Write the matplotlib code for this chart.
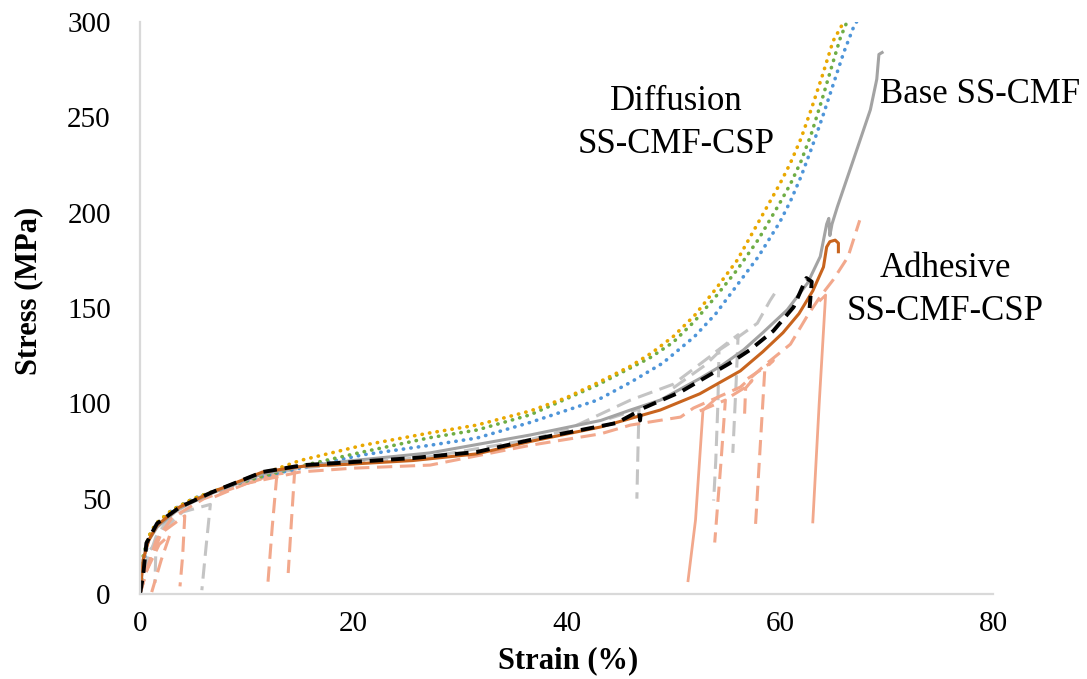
# -*- coding:utf-8 -*-
# stress-strain curves of SS-CMF samples (base / diffusion / adhesive)

import numpy as np
from matplotlib import pyplot as plt

# --- diffusion SS-CMF-CSP (dotted) ---
diff_gold_x = [0, 0.3, 0.8, 1.5, 3, 5, 8, 11, 15, 20.9, 27.2, 31.6, 36.6, 40, 43, 46, 48, 50, 52, 54, 56, 57.2, 58.5, 60, 61, 62, 63, 64, 65, 66]
diff_gold_y = [0, 18, 30, 37, 44, 50, 56, 62, 70, 78, 84.5, 88.6, 96, 103, 111, 119.5, 126.5, 135, 146, 160, 175, 187, 200, 215, 226, 239, 255, 272, 290, 300]
diff_green_x = [0, 0.3, 0.8, 1.5, 3, 5, 8, 11, 15, 20.9, 27.2, 31.6, 36.6, 42.9, 47.8, 50, 52, 54, 56, 58, 60, 61, 62, 63, 64, 65, 65.7, 66.3]
diff_green_y = [0, 20, 30, 37, 44, 50, 56, 61, 67, 74.5, 82, 86, 94, 109.6, 123.8, 132, 143, 156, 170, 186, 205, 215, 227, 242, 260, 279, 292, 300]
diff_blue_x = [0, 0.3, 0.8, 1.5, 3, 5, 8, 11, 15, 20.9, 27.2, 31.6, 36.6, 42.9, 46, 49, 52, 54, 56, 58, 60, 61, 62, 63, 64, 65, 66, 66.9, 67.2]
diff_blue_y = [0, 16, 28, 36, 44, 50, 56, 61, 66, 73, 78, 81.8, 90, 101.7, 111, 121, 135, 147, 162, 177, 195, 206, 219, 234, 250, 267, 284, 297, 300]

# --- base SS-CMF ---
base_x = [0, 0.3, 0.8, 1.6, 3.7, 6.8, 11.5, 15.3, 20, 27.2, 36.6, 43.2, 46, 48.8, 50.7, 52.5, 54.6, 56.6, 58.4, 60.7, 62.6, 63.8, 64.4, 64.6, 64.7, 64.9, 65.4, 66.9, 68.5, 69.1, 69.3, 69.6]
base_y = [0, 18, 28, 35, 45, 53, 63, 67, 70, 74, 83.4, 91, 96.5, 101.7, 107.5, 113, 120, 128, 137, 149, 163, 177, 194, 197, 188, 194, 203, 227.6, 254, 270, 283, 284]
black_x = [0, 0.3, 0.6, 1.6, 3.75, 6.8, 11.5, 15.3, 19.4, 25.6, 31.6, 36.6, 44.7, 46.8, 46.9, 47.0, 50.7, 55.3, 57.2, 59.4, 61.3, 62.5, 63.0, 62.8]
black_y = [0, 10, 26.7, 37, 45.6, 53.5, 64, 67.6, 69, 71.3, 74.5, 80.8, 89.7, 96, 91, 97, 106, 121, 128, 138, 150.5, 165.7, 163.8, 150]
gray_main_x = [0, 0.5, 1.5, 3, 6, 10, 15, 20, 27.2, 36.6, 40, 46, 50, 53.8, 55.3, 57.9, 59.1, 59.8]
gray_main_y = [0, 14, 30, 42, 52, 60, 66, 68.5, 72, 81, 86, 101.7, 110, 126, 131.6, 142, 154, 160]
gray_drops = [
	([0, 0.8, 1.5, 1.45, 1.4], [0, 22, 27, 15, 5.8]),
	([0, 0.6, 2, 4, 6.6, 6.2, 5.8], [0, 14, 33, 43, 47, 25, 2]),
	([44, 46.8, 46.7, 46.6], [92, 97, 75, 50]),
	([50, 53, 54.3, 54.2, 54.0, 53.8], [108, 120, 127, 100, 70, 49]),
	([54, 56.1, 55.9, 55.6], [127, 136, 110, 74]),
]

# --- adhesive SS-CMF-CSP ---
orange_x = [0, 0.3, 0.8, 1.6, 3.7, 6.8, 11.5, 15.3, 19.4, 25.6, 31.6, 36.6, 43.2, 48.8, 52.5, 56.3, 58.4, 60.3, 61.8, 63.1, 64.1, 64.4, 64.7, 65.2, 65.5, 65.5]
orange_y = [0, 18, 28, 36, 45.6, 53.5, 64, 67, 68, 70, 73.5, 80, 87.6, 96.5, 105, 117, 127, 137, 147, 159, 171.5, 182, 184.8, 185.6, 184, 179.5]
salmon_main_x = [0, 0.5, 1.5, 3, 6, 10, 15, 20, 27.2, 36.6, 43.2, 46, 50.7, 51.9, 56.3, 58.8, 61, 62.6, 63.8, 65, 66.4, 67.5]
salmon_main_y = [0, 10, 28, 40, 50, 58, 64, 66, 67.6, 78, 84, 88.6, 92.8, 97.5, 108.5, 121, 131, 146, 156, 164.7, 176.8, 196]
salmon_dash_drops = [
	([0, 0.6, 1.8, 2.8, 2.0, 1.1], [0, 12, 26, 31, 18, 1]),
	([0, 0.6, 2, 4.2, 4.0, 3.75], [0, 12, 32, 41, 20, 4]),
	([7, 10, 12.85, 12.4, 12.0], [51, 58, 63.4, 35, 6]),
	([10, 13, 14.5, 14.2, 13.9], [58, 63, 64, 38, 11]),
	([52.5, 54.9, 54.5, 53.9], [96, 101.7, 70, 27]),
	([55.5, 56.8, 57.4, 56.8, 56.7], [104, 108.5, 112, 108, 94]),
	([57, 58.6, 59.4, 58.6, 57.7], [113, 119, 122.5, 118, 33.6]),
]
salmon_solid_drops = [
	([54.1, 52.8, 52.1, 51.4], [102.8, 96.5, 38.8, 7]),
	([63.8, 64.3, 63.7, 63.1], [154, 156.8, 100, 37.8]),
]

x_ticks = [0, 20, 40, 60, 80]
y_ticks = [0, 50, 100, 150, 200, 250, 300]

GOLD = '#E9A800'
GREEN = '#6FAD45'
BLUE = '#4E95D9'
GRAY = '#A3A3A3'
LGRAY = '#C4C4C4'
ORANGE = '#C8641E'
SALMON = '#F2A88C'

plt.rcParams['font.family'] = ['Liberation Serif', 'DejaVu Serif']


def draw_curves(ax):
	# background: specimens with unloading
	for xs, ys in gray_drops:
		ax.plot(xs, ys, color=LGRAY, lw=2.2, dashes=(5, 2.5))
	ax.plot(gray_main_x, gray_main_y, color=LGRAY, lw=2.2, dashes=(5, 2.5))
	for xs, ys in salmon_dash_drops:
		ax.plot(xs, ys, color=SALMON, lw=2.2, dashes=(5, 2.5))
	ax.plot(salmon_main_x, salmon_main_y, color=SALMON, lw=2.2, dashes=(5, 2.5))
	for xs, ys in salmon_solid_drops:
		ax.plot(xs, ys, color=SALMON, lw=2.0)

	dot = dict(lw=2.6, dashes=(0.1, 2.0), dash_capstyle='round')
	ax.plot(diff_blue_x, diff_blue_y, color=BLUE, **dot)
	ax.plot(diff_green_x, diff_green_y, color=GREEN, **dot)
	ax.plot(diff_gold_x, diff_gold_y, color=GOLD, **dot)

	ax.plot(base_x, base_y, color=GRAY, lw=2.2)
	ax.plot(orange_x, orange_y, color=ORANGE, lw=2.2)
	ax.plot(black_x, black_y, color='black', lw=2.8, dashes=(3.5, 2))


def main():
	fig = plt.figure(figsize=(10.87, 6.79), dpi=100)
	ax = fig.add_axes([140 / 1087, 1 - 594 / 679, 853 / 1087, 572 / 679])
	draw_curves(ax)

	ax.set_xlim(0, 80)
	ax.set_ylim(0, 300)
	ax.set_xticks(x_ticks)
	ax.set_yticks(y_ticks)
	ax.tick_params(axis='both', length=0, labelsize=21)
	ax.tick_params(axis='x', pad=12)
	ax.tick_params(axis='y', pad=21)
	for s in ['top', 'right']:
		ax.spines[s].set_visible(False)
	for s in ['left', 'bottom']:
		ax.spines[s].set_color('#D9D9D9')
		ax.spines[s].set_linewidth(1.6)

	W, H = 1087.0, 679.0
	fig.text(568 / W, 1 - 668 / H, 'Strain (%)', fontsize=22, fontweight='bold', ha='center', va='baseline')
	fig.text(29 / W, 1 - 291 / H, 'Stress (MPa)', fontsize=22, fontweight='bold', ha='center', va='center', rotation=90)

	fig.text(676 / W, 1 - 110 / H, 'Diffusion', fontsize=25, ha='center', va='baseline')
	fig.text(676 / W, 1 - 153 / H, 'SS-CMF-CSP', fontsize=25, ha='center', va='baseline')
	fig.text(880 / W, 1 - 103 / H, 'Base SS-CMF', fontsize=25, ha='left', va='baseline')
	fig.text(945 / W, 1 - 277 / H, 'Adhesive', fontsize=25, ha='center', va='baseline')
	fig.text(945 / W, 1 - 320 / H, 'SS-CMF-CSP', fontsize=25, ha='center', va='baseline')

	fig.savefig('out.png', dpi=100)
	return


if __name__ == "__main__":
	main()
